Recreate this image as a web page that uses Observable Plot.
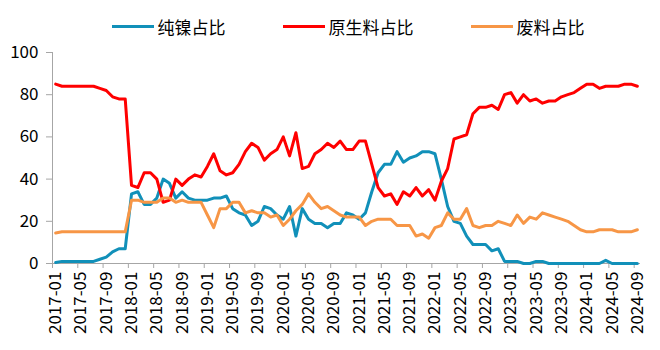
<!DOCTYPE html>
<html>
<head>
<meta charset="utf-8">
<script src="https://cdn.jsdelivr.net/npm/d3@7"></script>
<script src="https://cdn.jsdelivr.net/npm/@observablehq/plot@0.6"></script>
<style>
  body { margin: 0; background: #fff; }
  #wrap { position: relative; width: 660px; height: 350px; font-family: "Noto Sans CJK SC", "Noto Sans", sans-serif; }
  #legend { position: absolute; top: 14px; left: 0; width: 624px; padding-left: 36px; height: 24px;
            display: flex; justify-content: center; align-items: center; gap: 57px; font-size: 17px; color: #000; }
  .item { display: flex; align-items: center; white-space: nowrap; }
  .swatch { width: 42px; height: 3px; margin-right: 4px; }
</style>
</head>
<body>
<div id="wrap"><div id="legend"></div></div>
<script>
const months = [
  "2017-01","2017-02","2017-03","2017-04","2017-05","2017-06","2017-07","2017-08","2017-09","2017-10","2017-11","2017-12",
  "2018-01","2018-02","2018-03","2018-04","2018-05","2018-06","2018-07","2018-08","2018-09","2018-10","2018-11","2018-12",
  "2019-01","2019-02","2019-03","2019-04","2019-05","2019-06","2019-07","2019-08","2019-09","2019-10","2019-11","2019-12",
  "2020-01","2020-02","2020-03","2020-04","2020-05","2020-06","2020-07","2020-08","2020-09","2020-10","2020-11","2020-12",
  "2021-01","2021-02","2021-03","2021-04","2021-05","2021-06","2021-07","2021-08","2021-09","2021-10","2021-11","2021-12",
  "2022-01","2022-02","2022-03","2022-04","2022-05","2022-06","2022-07","2022-08","2022-09","2022-10","2022-11","2022-12",
  "2023-01","2023-02","2023-03","2023-04","2023-05","2023-06","2023-07","2023-08","2023-09","2023-10","2023-11","2023-12",
  "2024-01","2024-02","2024-03","2024-04","2024-05","2024-06","2024-07","2024-08","2024-09"
];
const tickLabels = [
  "2017-01","2017-05","2017-09","2018-01","2018-05","2018-09","2019-01","2019-05","2019-09","2020-01","2020-05","2020-09",
  "2021-01","2021-05","2021-09","2022-01","2022-05","2022-09","2023-01","2023-05","2023-09","2024-01","2024-05","2024-09"
];
const yTicks = [0, 20, 40, 60, 80, 100];
const seriesNames = ["纯镍占比", "原生料占比", "废料占比"];
const seriesColors = ["#1190b9", "#ff0000", "#f79646"];

// 纯镍占比
const pureNickel = [
  0.5,1,1,1,1,1,1,2,3,5.5,7,7,
  33,34,28,28,31,40,38,31,34,31,30,30,
  30,31,31,32,26,24,23,18,20,27,26,23,
  21,27,13,26,21,19,19,17,19,19,24,23,
  21,24,34,43,47,47,53,48,50,51,53,53,
  52,40,27,20,19,13,9,9,9,6,7,1,
  1,1,0,0,1,1,0,0,0,0,0,0,
  0,0,0,1.5,0,0,0,0,0
];
// 原生料占比
const primary = [
  85,84,84,84,84,84,84,83,82,79,78,78,
  37,36,43,43,40,29,30,40,37,40,42,41,
  46,52,44,42,43,47,53,57,55,49,52,54,
  60,51,62,45,46,52,54,57,55,58,54,54,
  58,58,47,36,32,33,28,34,32,36,32,35,
  30,39,45,59,60,61,71,74,74,75,73,80,
  81,76,80,77,78,76,77,77,79,80,81,83,
  85,85,83,84,84,84,85,85,84
];
// 废料占比
const scrap = [
  14.5,15,15,15,15,15,15,15,15,15,15,15,
  30,30,29,29,29,31,31,29,30,29,29,29,
  23,17,26,26,29,29,24,25,24,24,22,23,
  18,21,25,28,33,29,26,27,25,23,22,22,
  22,18,20,21,21,21,18,18,18,13,14,12,
  17,18,24,21,21,26,18,17,18,18,20,19,
  18,23,19,22,21,24,23,22,21,20,18,16,
  15,15,16,16,16,15,15,15,16
];
const seriesValues = [pureNickel, primary, scrap];

const rows = [];
seriesValues.forEach((vals, s) => vals.forEach((v, i) => rows.push({series: seriesNames[s], month: months[i], idx: i, value: v})));

const boundaryTicks = tickLabels.map(l => months.indexOf(l));
const labelTicks = tickLabels.map(l => months.indexOf(l) + 0.5);
const axisGray = "#a6a6a6";
const font = "'Noto Sans CJK SC', 'Noto Sans', sans-serif";

const chart = Plot.plot({
  width: 660,
  height: 350,
  marginTop: 52,
  marginBottom: 87,
  marginLeft: 52,
  marginRight: 20,
  style: {fontFamily: font, fontSize: "17px", color: "#000", background: "#fff", overflow: "visible"},
  x: {type: "linear", domain: [0, months.length], axis: null},
  y: {domain: [0, 100], axis: null},
  color: {domain: seriesNames, range: seriesColors},
  marks: [
    Plot.ruleX([0], {stroke: axisGray, strokeWidth: 1}),
    Plot.ruleY([0], {stroke: axisGray, strokeWidth: 1}),
    Plot.axisY({ticks: yTicks, tickSize: 6, tickPadding: 8, stroke: axisGray, fill: "#000", fontSize: 17,
                tickFormat: d => d, label: null}),
    Plot.axisX({ticks: boundaryTicks, tickSize: 5, stroke: axisGray, tickFormat: () => "", label: null}),
    Plot.axisX({ticks: labelTicks, tickSize: 0, tickPadding: 8, tickRotate: -90, fill: "#000", fontSize: 17,
                tickFormat: d => months[Math.floor(d)], label: null}),
    Plot.line(rows, {x: d => d.idx + 0.5, y: "value", z: "series", stroke: "series", strokeWidth: 3,
                     strokeLinejoin: "round", strokeLinecap: "round"})
  ]
});
document.getElementById("wrap").appendChild(chart);

const legend = document.getElementById("legend");
seriesNames.forEach((name, s) => {
  const item = document.createElement("div");
  item.className = "item";
  const sw = document.createElement("span");
  sw.className = "swatch";
  sw.style.background = seriesColors[s];
  const tx = document.createElement("span");
  tx.textContent = name;
  item.appendChild(sw);
  item.appendChild(tx);
  legend.appendChild(item);
});
</script>
</body>
</html>
